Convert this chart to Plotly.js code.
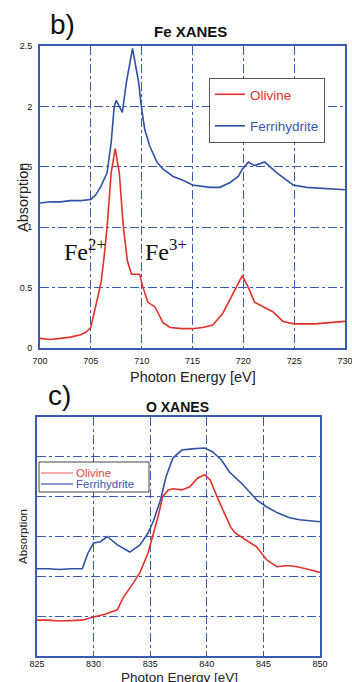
<!DOCTYPE html>
<html><head><meta charset="utf-8">
<script src="https://cdn.plot.ly/plotly-3.0.1.min.js"></script>
<style>html,body{margin:0;padding:0;background:#fff}#chart{width:352px;height:682px}</style>
</head><body><div id="chart"></div>
<script>
// Fe L-edge XANES (panel b)
const feOlivineE = [700,701,702,703,704,704.5,705,705.5,706,706.3,706.6,707,707.4,707.8,708.2,708.6,709,709.8,710.1,710.6,711.3,712.1,712.8,714,715,716,717,718,719,719.9,720.5,721.1,722,722.9,723.9,725,727,730];
const feOlivine  = [0.08,0.07,0.08,0.09,0.11,0.13,0.17,0.37,0.54,0.75,1.0,1.45,1.65,1.45,1.0,0.72,0.61,0.61,0.51,0.38,0.34,0.21,0.17,0.16,0.16,0.17,0.19,0.29,0.46,0.60,0.50,0.38,0.34,0.30,0.22,0.20,0.20,0.22];
const feFerriE = [700,701,702,703,704,705,705.5,706,706.6,707,707.3,707.5,708.1,708.5,709.1,709.7,710,710.3,710.8,711.5,712.1,713.1,714,715,716.7,717.7,718.7,719.5,719.9,720.5,721.1,722.1,723.3,723.9,724.9,726.2,728,730];
const feFerri  = [1.20,1.21,1.21,1.22,1.22,1.23,1.27,1.34,1.45,1.70,2.00,2.05,1.95,2.20,2.48,2.20,1.98,1.81,1.67,1.54,1.48,1.42,1.39,1.35,1.33,1.33,1.37,1.42,1.48,1.54,1.51,1.54,1.45,1.41,1.35,1.33,1.32,1.31];
// O K-edge XANES (panel c), arbitrary units
const oOlivineE = [825,826,827,828,829,830,831,832.1,832.6,833.5,834.1,834.8,835.3,835.7,836.1,836.6,837.0,837.8,838.5,839.2,839.8,840.3,840.9,841.5,842.1,842.5,843.5,844.4,845.3,846.2,847.1,848,849,850];
const oOlivine  = [0.90,0.90,0.88,0.89,0.90,0.98,1.05,1.16,1.46,1.83,2.10,2.58,3.08,3.50,4.00,4.17,4.20,4.17,4.25,4.47,4.55,4.42,4.00,3.60,3.24,3.09,2.91,2.74,2.41,2.24,2.27,2.24,2.17,2.10];
const oFerriE = [825,826,827,828,829,829.5,830,830.6,831.2,832.1,833.2,834.1,834.8,835.3,835.9,836.4,837.0,837.8,838.7,839.8,840.5,841.3,842,843.2,844.4,845.3,846.2,847.3,848.2,849,850];
const oFerri  = [2.19,2.19,2.17,2.19,2.19,2.58,2.84,2.87,3.00,2.79,2.61,2.79,3.08,3.40,3.91,4.50,4.97,5.17,5.20,5.22,5.13,4.92,4.62,4.30,3.92,3.74,3.60,3.47,3.42,3.40,3.37];
const feTicks = [700,705,710,715,720,725,730];
const oTicks = [825,830,835,840,845,850];
const seriesNames = ['Olivine','Ferrihydrite'];

const RED = '#e3312b', BLUE = '#2f52a6', FRAME = '#3a5cb0';
const traces = [
  {x: feOlivineE, y: feOlivine, xaxis:'x', yaxis:'y', mode:'lines', line:{color:RED,width:1.6},
   name:'<span style="color:#e3312b">'+seriesNames[0]+'</span>', legendgroup:'a'},
  {x: feFerriE, y: feFerri, xaxis:'x', yaxis:'y', mode:'lines', line:{color:BLUE,width:1.6},
   name:'<span style="color:#3a58a8">'+seriesNames[1]+'</span>', legendgroup:'b'},
  {x: oOlivineE, y: oOlivine, xaxis:'x2', yaxis:'y2', mode:'lines', line:{color:RED,width:1.6}, showlegend:false, name:seriesNames[0]},
  {x: oFerriE, y: oFerri, xaxis:'x2', yaxis:'y2', mode:'lines', line:{color:BLUE,width:1.6}, showlegend:false, name:seriesNames[1]}
];
const W=352,H=682;
const px=v=>v/W, py=v=>(H-v)/H;
const axBase = {showline:true, mirror:true, linecolor:FRAME, linewidth:2, showgrid:true,
  gridcolor:FRAME, griddash:'dashdot', gridwidth:1.2, zeroline:false, ticks:'',
  ticklabeloverflow:'allow', tickfont:{family:'Liberation Sans, Arial', size:9, color:'#111'}};
function ann(text, x, y, font, extra){
  return Object.assign({text:text, x:px(x), y:py(y), xref:'paper', yref:'paper', showarrow:false,
    xanchor:'center', yanchor:'middle', font:font}, extra||{});
}
const serif = {size:24, family:'Liberation Serif, Times New Roman', color:'#111'};
const layout = {
  width:W, height:H, margin:{l:0,r:0,t:0,b:0}, paper_bgcolor:'#fff', plot_bgcolor:'#fff',
  font:{family:'Liberation Sans, Arial'},
  xaxis: Object.assign({}, axBase, {domain:[px(40),px(345)], range:[700,730], tickvals:feTicks, ticklabelstandoff:3, anchor:'y'}),
  yaxis: Object.assign({}, axBase, {domain:[py(348),py(46)], range:[0,2.5], dtick:0.5, ticklabelstandoff:4, anchor:'x'}),
  xaxis2: Object.assign({}, axBase, {domain:[px(37),px(320)], range:[825,850], tickvals:oTicks, ticklabelstandoff:-2, anchor:'y2'}),
  yaxis2: Object.assign({}, axBase, {domain:[py(656),py(417)], range:[0,6], dtick:1, showticklabels:false, anchor:'x2'}),
  showlegend:true,
  legend: {x:px(209), y:py(78), xanchor:'left', yanchor:'top', bgcolor:'#fff', bordercolor:'#555', borderwidth:1,
    font:{size:13.5, family:'Liberation Sans, Arial'}, tracegroupgap:11, itemwidth:30},
  shapes: [
    {type:'rect', xref:'paper', yref:'paper', x0:px(39), x1:px(149), y0:py(492), y1:py(462), line:{color:'#444',width:1}, fillcolor:'#fff', layer:'above'},
    {type:'line', xref:'paper', yref:'paper', x0:px(41), x1:px(73), y0:py(473), y1:py(473), line:{color:'#ee7a7a',width:1.2}, layer:'above'},
    {type:'line', xref:'paper', yref:'paper', x0:px(41), x1:px(73), y0:py(484), y1:py(484), line:{color:'#3a58a8',width:1.2}, layer:'above'}
  ],
  annotations: [
    ann('b)', 62, 25, {size:28, color:'#111'}),
    ann('<b>Fe XANES</b>', 190, 32, {size:15, color:'#111'}),
    ann('Photon Energy [eV]', 193, 377, {size:14.5, color:'#222'}),
    ann('Absorption', 23, 198, {size:14.5, color:'#222'}, {textangle:-90}),
    {text:'Fe<sup>2+</sup>', x:706.7, y:0.81, xref:'x', yref:'y', xanchor:'right', yanchor:'middle', showarrow:false, font:serif},
    {text:'Fe<sup>3+</sup>', x:714.7, y:0.81, xref:'x', yref:'y', xanchor:'right', yanchor:'middle', showarrow:false, font:serif},
    ann('c)', 60, 396, {size:28, color:'#111'}),
    ann('<b>O XANES</b>', 177, 407, {size:14, color:'#111'}),
    ann('Photon Energy [eV]', 179, 677, {size:13.5, color:'#222'}),
    ann('Absorption', 23, 537, {size:11.5, color:'#222'}, {textangle:-90}),
    ann(seriesNames[0], 74, 473, {size:11.5, color:'#e04848'}, {xanchor:'left'}),
    ann(seriesNames[1], 74, 484, {size:11.5, color:'#3a58a8'}, {xanchor:'left'})
  ]
};
Plotly.newPlot('chart', traces, layout, {displayModeBar:false, staticPlot:true});
</script></body></html>
